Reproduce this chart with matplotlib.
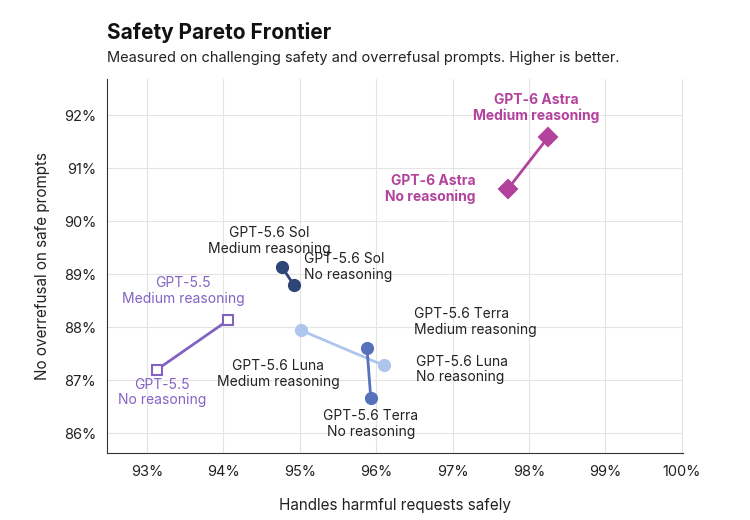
import matplotlib.pyplot as plt

plt.rcParams["font.family"] = ["Inter", "DejaVu Sans"]

models = ["GPT-5.5", "GPT-5.6 Sol", "GPT-5.6 Luna", "GPT-5.6 Terra", "GPT-6 Astra"]
x_none = [93.13, 94.92, 96.10, 95.93, 97.72]
y_none = [87.20, 88.80, 87.28, 86.66, 90.60]
x_med = [94.06, 94.77, 95.02, 95.88, 98.25]
y_med = [88.13, 89.13, 87.94, 87.60, 91.58]
colors = ["#8263c4", "#2d4677", "#aec6ee", "#5672bd", "#b3429c"]
markers = ["s", "o", "o", "o", "D"]
hollow = [True, False, False, False, False]

xticks = [93, 94, 95, 96, 97, 98, 99, 100]
yticks = [86, 87, 88, 89, 90, 91, 92]

fig = plt.figure(figsize=(7.5, 5.2), dpi=100)
ax = fig.add_axes([0.143, 0.128, 0.768, 0.72])

for i, m in enumerate(models):
    ax.plot([x_none[i], x_med[i]], [y_none[i], y_med[i]], color=colors[i], lw=2, zorder=2)
    fc = "white" if hollow[i] else colors[i]
    ms = 7 if markers[i] == "s" else (9 if markers[i] == "D" else 8)
    ax.plot([x_none[i], x_med[i]], [y_none[i], y_med[i]], ls="none", marker=markers[i],
            ms=ms, mfc=fc, mec=colors[i], mew=1.5, zorder=3)

lab = dict(fontsize=10, linespacing=1.15)
ax.text(93.2, 87.05, "GPT-5.5\nNo reasoning", color="#8263c4", ha="center", va="top", **lab)
ax.text(93.47, 88.4, "GPT-5.5\nMedium reasoning", color="#8263c4", ha="center", va="bottom", **lab)
ax.text(94.6, 89.35, "GPT-5.6 Sol\nMedium reasoning", color="#222222", ha="center", va="bottom", **lab)
ax.text(95.05, 88.85, "GPT-5.6 Sol\nNo reasoning", color="#222222", ha="left", va="bottom", **lab)
ax.text(94.72, 87.4, "GPT-5.6 Luna\nMedium reasoning", color="#222222", ha="center", va="top", **lab)
ax.text(96.52, 87.2, "GPT-5.6 Luna\nNo reasoning", color="#222222", ha="left", va="center", **lab)
ax.text(96.5, 88.1, "GPT-5.6 Terra\nMedium reasoning", color="#222222", ha="left", va="center", **lab)
ax.text(95.93, 86.45, "GPT-5.6 Terra\nNo reasoning", color="#222222", ha="center", va="top", **lab)
ax.text(97.3, 90.6, "GPT-6 Astra\nNo reasoning", color="#b3429c", ha="right", va="center",
        fontweight="bold", **lab)
ax.text(98.1, 91.85, "GPT-6 Astra\nMedium reasoning", color="#b3429c", ha="center", va="bottom",
        fontweight="bold", **lab)

ax.set_xlim(92.48, 100.02)
ax.set_ylim(85.62, 92.68)
ax.set_xticks(xticks)
ax.set_xticklabels([f"{v}%" for v in xticks])
ax.set_yticks(yticks)
ax.set_yticklabels([f"{v}%" for v in yticks])
ax.grid(color="#e4e4e4", lw=0.8)
ax.set_axisbelow(True)
for s in ["top", "right"]:
    ax.spines[s].set_visible(False)
ax.spines["left"].set_color("#333333")
ax.spines["bottom"].set_color("#333333")
ax.tick_params(length=0, labelsize=10.5, colors="#222222", pad=8)
ax.set_xlabel("Handles harmful requests safely", fontsize=11, color="#222222", labelpad=14)
ax.set_ylabel("No overrefusal on safe prompts", fontsize=11, color="#222222", labelpad=10)

fig.text(0.143, 0.925, "Safety Pareto Frontier", fontsize=15, fontweight="bold", color="#111111")
fig.text(0.143, 0.88, "Measured on challenging safety and overrefusal prompts. Higher is better.",
         fontsize=10.5, color="#222222")

fig.savefig("out.png", dpi=100, facecolor="white")
